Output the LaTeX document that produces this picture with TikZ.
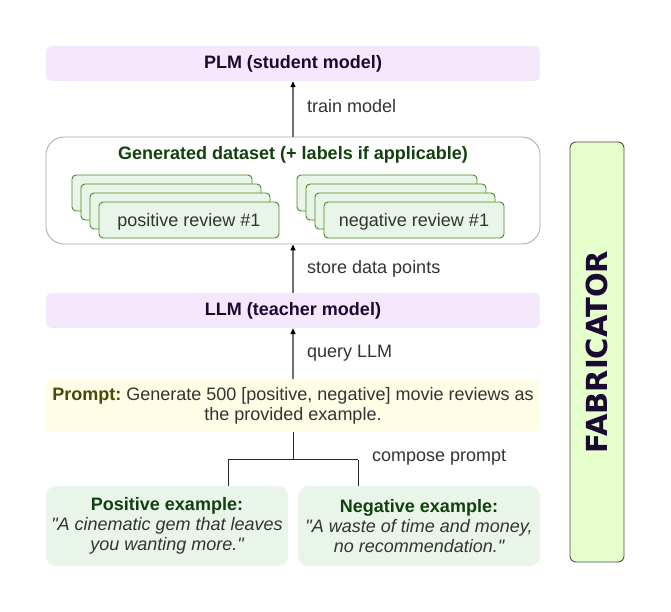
\documentclass[tikz,border=0pt]{standalone}
\usepackage{fontspec}
\setmainfont{Liberation Sans}
\newfontfamily\qfont{Liberation Sans}
\newfontfamily\fabfont{DejaVu Sans}
\usetikzlibrary{arrows.meta,calc}
\frenchspacing
\definecolor{purplefill}{HTML}{F5E8FC}
\definecolor{navytext}{HTML}{1A0A33}
\definecolor{greentitle}{HTML}{12400F}
\definecolor{cardfill}{HTML}{E8F5E8}
\definecolor{cardstroke}{HTML}{4F8A1E}
\definecolor{promptfill}{HTML}{FFFDE6}
\definecolor{olivetext}{HTML}{4A4A08}
\definecolor{bodytext}{HTML}{333333}
\definecolor{fabfill}{HTML}{E6FFCC}
\definecolor{arrowgray}{HTML}{707070}
\definecolor{dsborder}{HTML}{A8A8A8}
\newcommand{\cardtext}[1]{\raisebox{-6pt}[0pt][0pt]{#1}}
\tikzset{
  base/.style={inner sep=0pt, font=\fontsize{18}{20}\selectfont},
  purplebox/.style={base, fill=purplefill, rounded corners=5pt, text=navytext, font=\fontsize{18}{20}\selectfont\bfseries},
  dsbox/.style={base, draw=dsborder, line width=0.8pt, fill=white, rounded corners=18pt},
  cardbox/.style={base, draw=cardstroke, line width=0.9pt, fill=cardfill, rounded corners=4pt, minimum width=180pt, minimum height=36pt, text=bodytext},
  promptbox/.style={base, fill=promptfill, rounded corners=6pt, text=bodytext, align=center},
  exbox/.style={base, fill=cardfill, rounded corners=10pt, text=bodytext, align=center, minimum width=242pt, minimum height=80pt},
  lbl/.style={base, anchor=west, text=bodytext},
  flow/.style={draw=arrowgray, line width=1.3pt, -{Triangle[length=6pt,width=5pt,black]}},
  tree/.style={draw=black!85, line width=0.9pt},
  fabbox/.style={base, draw=black!70, line width=0.9pt, fill=fabfill, rounded corners=6pt, minimum width=54pt, minimum height=420pt}
}
\begin{document}
\begin{tikzpicture}[x=1pt,y=-1pt]
\useasboundingbox (0,0) rectangle (671,612);
% PLM
\node[purplebox, minimum width=494pt, minimum height=35pt] (plm) at (293,63.5) {PLM (student model)};
% dataset
\node[dsbox, minimum width=494pt, minimum height=107pt] (ds) at (293,190.5) {};
\node[base, text=greentitle, font=\fontsize{18}{20}\selectfont\bfseries] (dstitle) at (293,155) {Generated dataset (+ labels if applicable)};
\node[cardbox] (p0) at (162,193) {};
\node[cardbox] (p1) at (171,202) {};
\node[cardbox] (p2) at (180,211) {};
\node[cardbox] (p3) at (189,220) {\cardtext{positive review \#1}};
\node[cardbox] (n0) at (387,193) {};
\node[cardbox] (n1) at (396,202) {};
\node[cardbox] (n2) at (405,211) {};
\node[cardbox] (n3) at (414,220) {\cardtext{negative review \#1}};
% LLM
\node[purplebox, minimum width=494pt, minimum height=35pt] (llm) at (293,310.5) {LLM (teacher model)};
% prompt
\node[promptbox, minimum width=494pt, minimum height=53pt] (prompt) at (293,405.5) {\textcolor{olivetext}{\bfseries Prompt:} Generate 500 [positive, negative] movie reviews as\\the provided example.};
% examples
\node[exbox] (posex) at (167,526) {\textcolor{greentitle}{\bfseries Positive example:}\\{\qfont\itshape "A cinematic gem that leaves}\\{\qfont\itshape you wanting more."}};
\node[exbox] (negex) at (419,526) {\textcolor{greentitle}{\bfseries Negative example:}\\{\qfont\itshape "A waste of time and money,}\\{\qfont\itshape no recommendation."}};
% fabricator
\node[fabbox] (fab) at (597,352) {};
\node[base, rotate=90, text=navytext, font=\fontsize{29}{30}\fabfont\bfseries] (fabtext) at (597,352) {FABRICATOR};
% arrows
\draw[flow] (ds.north) -- (plm.south);
\draw[flow] (llm.north) -- (ds.south);
\draw[flow] (prompt.north) -- (llm.south);
\node[lbl] (l1) at (307,106) {train model};
\node[lbl] (l2) at (307,269) {store data points};
\node[lbl] (l3) at (307,353) {query LLM};
\node[lbl] (l4) at (372,458) {compose prompt};
% tree
\coordinate (j) at (293,459.5);
\coordinate (jl) at (228,459.5);
\coordinate (jr) at (358,459.5);
\draw[tree] (prompt.south) -- (j);
\draw[tree] (jl) -- (jr);
\draw[tree] (jl) -- (jl |- posex.north);
\draw[tree] (jr) -- (jr |- negex.north);
\end{tikzpicture}
\end{document}
